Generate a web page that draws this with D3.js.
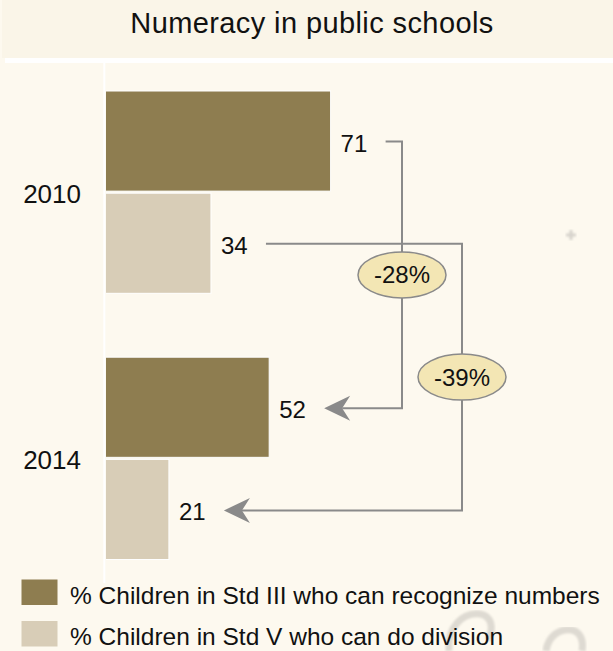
<!DOCTYPE html>
<html>
<head>
<meta charset="utf-8">
<script src="https://cdn.jsdelivr.net/npm/d3@7"></script>
<style>
  html, body { margin: 0; padding: 0; background: #fdf9ef; }
  svg { display: block; font-family: "Liberation Sans", Arial, sans-serif; }
</style>
</head>
<body>
<svg id="chart" width="613" height="651"></svg>
<script>
// Data
const years = ["2010", "2014"];
const seriesNames = [
  "% Children in Std III who can recognize numbers",
  "% Children in Std V who can do division"
];
const stdIII = [71, 52];
const stdV = [34, 21];
const changeLabels = ["-28%", "-39%"];
const seriesColors = ["#8e7d50", "#d8cdb7"];

const svg = d3.select("#chart");
const W = 613, H = 651;

// Background and title band
svg.append("rect").attr("width", W).attr("height", H).attr("fill", "#fdf9ef");
svg.append("rect").attr("x", 2).attr("y", 0).attr("width", W - 2).attr("height", 58).attr("fill", "#faf5e8");
svg.append("rect").attr("x", 5).attr("y", 58).attr("width", W - 5).attr("height", 5).attr("fill", "#ffffff");
svg.append("text")
  .attr("x", 312).attr("y", 33)
  .attr("text-anchor", "middle")
  .attr("font-size", 29)
  .attr("letter-spacing", 0.4)
  .attr("fill", "#111")
  .text("Numeracy in public schools");

// Scales
const x = d3.scaleLinear().domain([0, 100]).range([101, 424.4]);
const y = d3.scaleBand().domain(years).range([91, 559.5]).paddingInner(0.24).paddingOuter(0);
const ySub = d3.scaleBand().domain([0, 1]).range([0, y.bandwidth()]).paddingInner(0.02);

const rows = years.map((yr, i) => ({ year: yr, values: [stdIII[i], stdV[i]] }));

// Axis line
svg.append("line")
  .attr("x1", 104.3).attr("x2", 104.3)
  .attr("y1", 63).attr("y2", 583)
  .attr("stroke", "#ffffff").attr("stroke-width", 2);

// Bars (clipped to start right of the axis line)
svg.append("clipPath").attr("id", "plotClip")
  .append("rect").attr("x", 106).attr("y", 60).attr("width", 500).attr("height", 520);

const barsG = svg.append("g").attr("clip-path", "url(#plotClip)");
rows.forEach(r => {
  r.values.forEach((v, j) => {
    barsG.append("rect")
      .attr("x", x(0))
      .attr("y", y(r.year) + ySub(j))
      .attr("width", x(v) - x(0))
      .attr("height", ySub.bandwidth())
      .attr("fill", seriesColors[j])
      .attr("stroke", "#ffffff")
      .attr("stroke-width", 1);
  });
});

// Value labels
rows.forEach(r => {
  r.values.forEach((v, j) => {
    svg.append("text")
      .attr("x", x(v) + 10)
      .attr("y", y(r.year) + ySub(j) + ySub.bandwidth() / 2 + 11)
      .attr("font-size", 24)
      .attr("fill", "#111")
      .text(v);
  });
});

// Category labels
years.forEach(yr => {
  svg.append("text")
    .attr("x", 81)
    .attr("y", y(yr) + y.bandwidth() / 2 + 11)
    .attr("text-anchor", "end")
    .attr("font-size", 26)
    .attr("fill", "#111")
    .text(yr);
});

// Change connectors with arrows
const lineColor = "#8a8a8a";
const connectorX = [402, 462];
const series = [stdIII, stdV];
series.forEach((vals, j) => {
  const yFrom = y(years[0]) + ySub(j) + ySub.bandwidth() / 2 + 0.5;
  const yTo = y(years[1]) + ySub(j) + ySub.bandwidth() / 2 + 1;
  const xStart = x(vals[0]) + 55;
  const xTip = x(vals[1]) + 55;
  const cx = connectorX[j];
  svg.append("path")
    .attr("d", `M${xStart},${yFrom} H${cx} V${yTo} H${xTip + 18}`)
    .attr("fill", "none")
    .attr("stroke", lineColor)
    .attr("stroke-width", 2);
  svg.append("path")
    .attr("d", `M${xTip},${yTo} L${xTip + 26},${yTo - 12.5} L${xTip + 18},${yTo} L${xTip + 26},${yTo + 12.5} Z`)
    .attr("fill", lineColor);
  const cy = (yFrom + yTo) / 2;
  svg.append("ellipse")
    .attr("cx", cx).attr("cy", cy)
    .attr("rx", 44).attr("ry", 23)
    .attr("fill", "#f3e6b4")
    .attr("stroke", "#8a8a8a")
    .attr("stroke-width", 1.5);
  svg.append("text")
    .attr("x", cx).attr("y", cy + 8.5)
    .attr("text-anchor", "middle")
    .attr("font-size", 24)
    .attr("fill", "#111")
    .text(changeLabels[j]);
});

// Faint background marks
const defs = svg.append("defs");
defs.append("filter").attr("id", "soft")
  .append("feGaussianBlur").attr("stdDeviation", 1.2);
svg.append("path")
  .attr("d", "M566,235 H576 M571,230 V240")
  .attr("stroke", "#cdcac4").attr("stroke-width", 3)
  .attr("filter", "url(#soft)").attr("opacity", 0.8);
svg.append("path")
  .attr("d", "M449,651 C447,628 462,612 480,614 C492,616 494,628 488,640")
  .attr("fill", "none").attr("stroke", "#dedad2").attr("stroke-width", 7)
  .attr("filter", "url(#soft)");
svg.append("path")
  .attr("d", "M546,651 C548,636 560,628 572,630 C580,632 584,640 582,651")
  .attr("fill", "none").attr("stroke", "#dedad2").attr("stroke-width", 7)
  .attr("filter", "url(#soft)");

// Legend
const legend = svg.append("g");
seriesNames.forEach((name, j) => {
  const ly = 579.5 + j * 41.5;
  legend.append("rect")
    .attr("x", 21.5).attr("y", ly)
    .attr("width", 36).attr("height", 25.5)
    .attr("fill", seriesColors[j]);
  legend.append("text")
    .attr("x", 70).attr("y", ly + 24)
    .attr("font-size", 24.5)
    .attr("fill", "#111")
    .text(name);
});
</script>
</body>
</html>
